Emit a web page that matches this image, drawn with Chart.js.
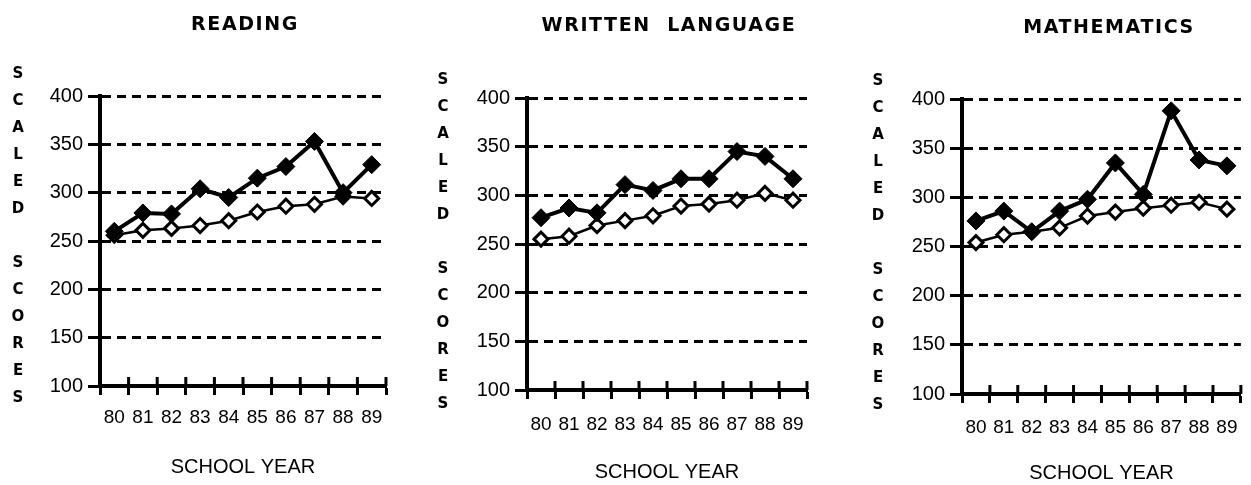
<!DOCTYPE html>
<html>
<head>
<meta charset="utf-8">
<script src="https://cdn.jsdelivr.net/npm/chart.js@4/dist/chart.umd.min.js"></script>
<style>
  body { margin: 0; background: #fff; }
  #page { position: relative; width: 1251px; height: 485px; overflow: hidden; }
  canvas { position: absolute; top: 0; }
  .ttl { position: absolute; font: bold 19px 'DejaVu Sans', sans-serif; letter-spacing: 1.6px;
         white-space: pre; transform: translateX(-50%); line-height: 19px; color: #000; }
  .vlab { position: absolute; width: 20px; text-align: center; white-space: pre;
          font: bold 15px 'DejaVu Sans', sans-serif; line-height: 27px; color: #000; }
</style>
</head>
<body>
<div id="page">
  <canvas id="reading" width="400" height="485" style="left:0px"></canvas>
  <canvas id="written" width="400" height="485" style="left:420px"></canvas>
  <canvas id="math" width="401" height="485" style="left:850px"></canvas>

  <div class="ttl" style="left:245px; top:14px">READING</div>
  <div class="ttl" style="left:669px; top:15px">WRITTEN  LANGUAGE</div>
  <div class="ttl" style="left:1109px; top:17px">MATHEMATICS</div>

  <div class="vlab" style="left:8px; top:60px">S
C
A
L
E
D

S
C
O
R
E
S</div>
  <div class="vlab" style="left:433px; top:66px">S
C
A
L
E
D

S
C
O
R
E
S</div>
  <div class="vlab" style="left:868px; top:67px">S
C
A
L
E
D

S
C
O
R
E
S</div>
</div>
<script>
var years = ['80', '81', '82', '83', '84', '85', '86', '87', '88', '89'];
var yTicks = [100, 150, 200, 250, 300, 350, 400];

// filled diamonds = upper line, open diamonds = lower line
var readingFilled = [260, 279, 278, 304, 295, 315, 327, 353, 300, 329];
var readingOpen   = [256, 261, 263, 266, 271, 280, 286, 288, 296, 294];
var writtenFilled = [277, 287, 282, 311, 305, 317, 317, 345, 340, 317];
var writtenOpen   = [255, 258, 269, 274, 279, 289, 291, 295, 302, 295];
var mathFilled    = [276, 286, 265, 286, 298, 335, 303, 388, 338, 332];
var mathOpen      = [254, 262, 265, 269, 281, 285, 289, 292, 295, 288];

// short tick marks above the x axis (the library ones only go below)
var upTicks = {
  id: 'upTicks',
  beforeDatasetsDraw: function(chart) {
    var xs = chart.scales.x;
    var n = xs.ticks.length;
    var step = xs.width / n;
    var ctx = chart.ctx;
    ctx.save();
    ctx.strokeStyle = '#000';
    ctx.lineWidth = 3;
    ctx.beginPath();
    for (var i = 0; i <= n; i++) {
      var px = xs.left + i * step;
      ctx.moveTo(px, xs.top);
      ctx.lineTo(px, xs.top - 9);
    }
    ctx.stroke();
    ctx.restore();
  }
};

function makeChart(id, filled, open, g) {
  return new Chart(document.getElementById(id), {
    type: 'line',
    data: {
      labels: years,
      datasets: [
        {
          data: filled,
          borderColor: '#000',
          borderWidth: 4,
          pointStyle: 'rectRot',
          pointRadius: 9,
          pointBackgroundColor: '#000',
          pointBorderColor: '#000',
          pointBorderWidth: 1,
          tension: 0,
          clip: false
        },
        {
          data: open,
          borderColor: '#000',
          borderWidth: 2.5,
          pointStyle: 'rectRot',
          pointRadius: 7,
          pointBackgroundColor: '#fff',
          pointBorderColor: '#000',
          pointBorderWidth: 3,
          tension: 0,
          clip: false
        }
      ]
    },
    options: {
      responsive: false,
      animation: false,
      devicePixelRatio: 1,
      layout: { padding: g.pad },
      plugins: { legend: { display: false }, tooltip: { enabled: false } },
      scales: {
        x: {
          offset: true,
          grid: { offset: true, drawOnChartArea: false, drawTicks: true, tickLength: 9,
                  tickWidth: 3, tickColor: '#000' },
          border: { display: true, color: '#000', width: 4 },
          ticks: { color: '#000', padding: g.xPad, maxRotation: 0, autoSkip: false,
                   font: { family: "'Liberation Sans Narrow', 'Liberation Sans', Arial, sans-serif", size: 19 } },
          title: { display: true, text: 'SCHOOL YEAR', color: '#000', padding: 0,
                   font: { family: "'Liberation Sans', Arial, sans-serif", size: 20 } },
          afterFit: function(s) { s.height = g.xH; }
        },
        y: {
          min: 100,
          max: 400,
          afterBuildTicks: function(s) { s.ticks = yTicks.map(function(v) { return { value: v }; }); },
          grid: {
            color: function(c) { return c.tick && c.tick.value === 100 ? 'rgba(0,0,0,0)' : '#000'; },
            lineWidth: 3,
            drawTicks: true,
            tickLength: 12,
            tickWidth: 3,
            tickColor: '#000'
          },
          border: { display: true, color: '#000', width: 4, dash: [9, 6] },
          ticks: { color: '#000', padding: 5,
                   font: { family: "'Liberation Sans', Arial, sans-serif", size: 20 } },
          afterFit: function(s) { s.width = 60; }
        }
      }
    },
    plugins: [upTicks]
  });
}

makeChart('reading', readingFilled, readingOpen,
  { pad: { left: 40, right: 14, top: 96, bottom: 6 }, xH: 93, xPad: 11 });
makeChart('written', writtenFilled, writtenOpen,
  { pad: { left: 47, right: 13, top: 98, bottom: 1 }, xH: 94, xPad: 14 });
makeChart('math', mathFilled, mathOpen,
  { pad: { left: 52, right: 5, top: 99, bottom: 0 }, xH: 91, xPad: 13 });
</script>
</body>
</html>
